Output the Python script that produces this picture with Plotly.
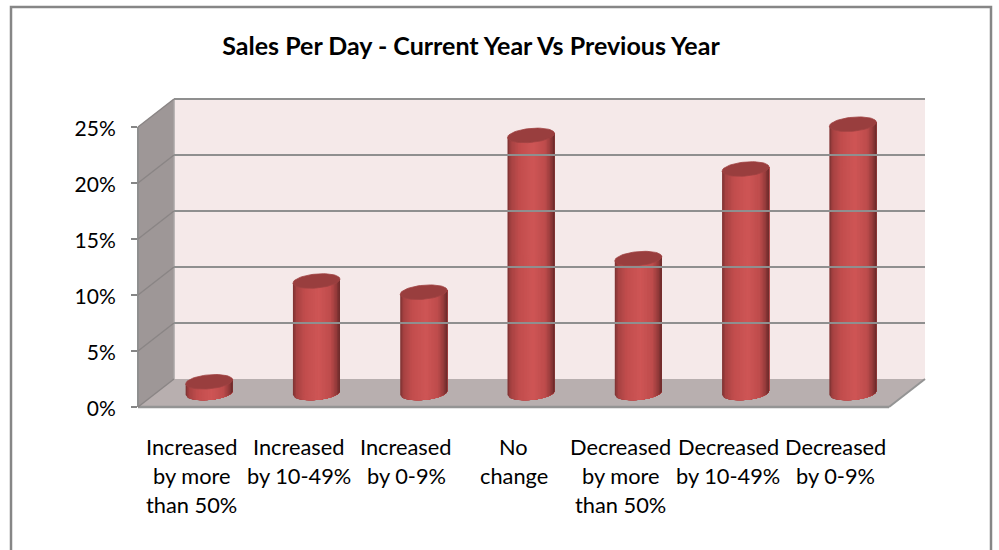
import numpy as np
import plotly.graph_objects as go

title = "Sales Per Day - Current Year Vs Previous Year"
category_lines = [
    ["Increased", "by more", "than 50%"],
    ["Increased", "by 10-49%"],
    ["Increased", "by 0-9%"],
    ["No", "change"],
    ["Decreased", "by more", "than 50%"],
    ["Decreased", "by 10-49%"],
    ["Decreased", "by 0-9%"],
]
values = [1, 10, 9, 23, 12, 20, 24]
y_ticks = [0, 5, 10, 15, 20, 25]

W, H = 999, 550
FONT = "Lato"
PX_PER_PCT = 11.2
DEPTH_X, DEPTH_Y = 36, 28
FRONT_L, FRONT_R, FRONT_0 = 138, 889, 407
CAT_W = (FRONT_R - FRONT_L) / len(values)


def xdom(a, b):
    return [a / W, b / W]


def ydom(top, bottom):
    return [1 - bottom / H, 1 - top / H]


def rx(px):
    return px / W


def ry(py):
    return 1 - py / H


def plane_axes(dx, dy, pad=30):
    # axes of one depth plane, shifted back by dx, dy pixels
    left, right = FRONT_L + dx, FRONT_R + dx
    zero = FRONT_0 - dy
    top = zero - 25 * PX_PER_PCT - pad
    bottom = zero + pad
    x_ax = dict(domain=xdom(left, right), range=[-0.5, len(values) - 0.5], visible=False)
    y_ax = dict(domain=ydom(top, bottom), range=[-pad / PX_PER_PCT, 25 + pad / PX_PER_PCT])
    return x_ax, y_ax


fig = go.Figure()

# cylinders sit half way between front and back planes
half_w = 23.5 / CAT_W
ell_b = 7.0 / PX_PER_PCT
ell_s = 2.0 / PX_PER_PCT

stops_u = [-1, -0.86, -0.5, 0.1, 0.6, 0.84, 1]
stops_rgb = np.array([
    [122, 48, 48], [166, 66, 66], [194, 77, 77], [207, 86, 86],
    [190, 76, 76], [150, 59, 59], [104, 41, 41],
])
edges = np.linspace(-1, 1, 33)

xs_idx = list(range(len(values)))
# painted left to right, each strip runs to the right edge so no seams show
for k in range(len(edges) - 1):
    u = np.linspace(edges[k], 1, 40)
    mid = (edges[k] + edges[k + 1]) / 2
    rgb = [int(np.interp(mid, stops_u, stops_rgb[:, c])) for c in range(3)]
    px_, py_ = [], []
    for i, v in zip(xs_idx, values):
        arc = ell_s * u - ell_b * np.sqrt(1 - u ** 2)
        px_ += list(i + half_w * u) + list(i + half_w * u[::-1]) + [None]
        py_ += list(arc) + list(v + ell_s * u[::-1]) + [None]
    col = f"rgb({rgb[0]},{rgb[1]},{rgb[2]})"
    fig.add_trace(go.Scatter(x=px_, y=py_, mode="lines", fill="toself", fillcolor=col,
                             line=dict(width=0), hoverinfo="skip",
                             showlegend=False, xaxis="x2", yaxis="y2"))

t = np.linspace(0, 2 * np.pi, 60)
top_x, top_y = [], []
for i, v in zip(xs_idx, values):
    top_x += list(i + half_w * np.cos(t)) + [None]
    top_y += list(v + ell_s * np.cos(t) + ell_b * np.sin(t)) + [None]
fig.add_trace(go.Scatter(x=top_x, y=top_y, mode="lines", fill="toself", fillcolor="#993e3e",
                         line=dict(color="#a04343", width=0.8), hoverinfo="skip",
                         showlegend=False, xaxis="x2", yaxis="y2"))

# front plane holds the tick labels, back plane holds the gridlines
x_front, y_front = plane_axes(0, 0)
x_mid, y_mid = plane_axes(DEPTH_X / 2 - 0.5, DEPTH_Y / 2)
x_back, y_back = plane_axes(DEPTH_X, DEPTH_Y)

y_front.update(tickvals=[t_ for t_ in y_ticks], ticktext=[f"{t_}%" for t_ in y_ticks],
               ticks="outside", ticklen=6, tickwidth=1.5, tickcolor="#868686",
               ticklabelstandoff=11, ticklabelshift=2, showgrid=False, zeroline=False, showline=False,
               tickfont=dict(family=FONT, size=21, color="#000000"))
y_mid.update(visible=False)
y_back.update(tickvals=y_ticks[1:], showticklabels=False, ticks="", side="right",
              showgrid=True, gridcolor="#8f8f8f", gridwidth=2, zeroline=False, showline=False)

# one empty trace on each plane so its axes get drawn
fig.add_trace(go.Scatter(x=[None], y=[None], xaxis="x", yaxis="y", showlegend=False, hoverinfo="skip"))
fig.add_trace(go.Scatter(x=[None], y=[None], xaxis="x3", yaxis="y3", showlegend=False, hoverinfo="skip"))

B_L, B_R = FRONT_L + DEPTH_X, FRONT_R + DEPTH_X
B_0 = FRONT_0 - DEPTH_Y
F_25 = FRONT_0 - 25 * PX_PER_PCT
B_25 = B_0 - 25 * PX_PER_PCT


def poly(points, fill, line=None, width=0):
    path = "M " + " L ".join(f"{rx(a):.5f},{ry(b):.5f}" for a, b in points) + " Z"
    return dict(type="path", xref="paper", yref="paper", path=path, fillcolor=fill,
                line=dict(color=line or fill, width=width), layer="below")


def seg(a, b, color="#8f8f8f", width=2):
    return dict(type="line", xref="paper", yref="paper", x0=rx(a[0]), y0=ry(a[1]),
                x1=rx(b[0]), y1=ry(b[1]), line=dict(color=color, width=width), layer="below")


shapes = [
    # chart frame, bottom edge runs off the page
    dict(type="rect", xref="paper", yref="paper", x0=rx(11), x1=rx(991), y0=-0.05, y1=ry(7),
         line=dict(color="#868686", width=2.5), fillcolor="#ffffff", layer="below"),
    poly([(B_L, B_25), (B_R, B_25), (B_R, B_0), (B_L, B_0)], "#f5e9e9"),
    poly([(FRONT_L, F_25), (B_L, B_25), (B_L, B_0), (FRONT_L, FRONT_0)], "#9e9797"),
    poly([(FRONT_L, FRONT_0), (B_L, B_0), (B_R, B_0), (FRONT_R, FRONT_0)], "#b8afaf"),
    seg((FRONT_L, FRONT_0), (FRONT_R, FRONT_0), "#949494", 2.5),
    seg((FRONT_R, FRONT_0), (B_R, B_0), "#949494", 2),
    seg((FRONT_L, F_25), (FRONT_L, FRONT_0), "#8f8f8f", 2),
    seg((B_L, B_25), (B_L, B_0), "#a9a5a5", 1.5),
]
for tick in y_ticks:
    y0 = FRONT_0 - tick * PX_PER_PCT
    shapes.append(seg((FRONT_L, y0), (B_L, y0 - DEPTH_Y), "#8a8585", 1.5))

annotations = []
LINE_Y = [446, 475, 504]
for i, lines in enumerate(category_lines):
    for j, txt in enumerate(lines):
        annotations.append(dict(text=txt, x=i, xref="x", y=ry(LINE_Y[j]), yref="paper",
                                xanchor="center", yanchor="middle", showarrow=False,
                                font=dict(family=FONT, size=21.8, color="#000000")))

fig.update_layout(
    width=W, height=H, autosize=False,
    margin=dict(l=0, r=0, t=0, b=0, pad=0),
    paper_bgcolor="#ffffff", plot_bgcolor="rgba(0,0,0,0)",
    showlegend=False,
    title=dict(text=f"<b>{title}</b>", x=471 / W, xanchor="center", xref="paper",
               y=ry(46), yanchor="middle", yref="paper",
               font=dict(family=FONT, size=25, color="#000000")),
    xaxis=x_front, yaxis=y_front,
    xaxis2=dict(x_mid, anchor="y2"), yaxis2=dict(y_mid, anchor="x2"),
    xaxis3=dict(x_back, anchor="y3"), yaxis3=dict(y_back, anchor="x3"),
    shapes=shapes, annotations=annotations,
)

fig.write_html("out.html", config=dict(displayModeBar=False),
               post_script="document.body.style.margin='0';")
